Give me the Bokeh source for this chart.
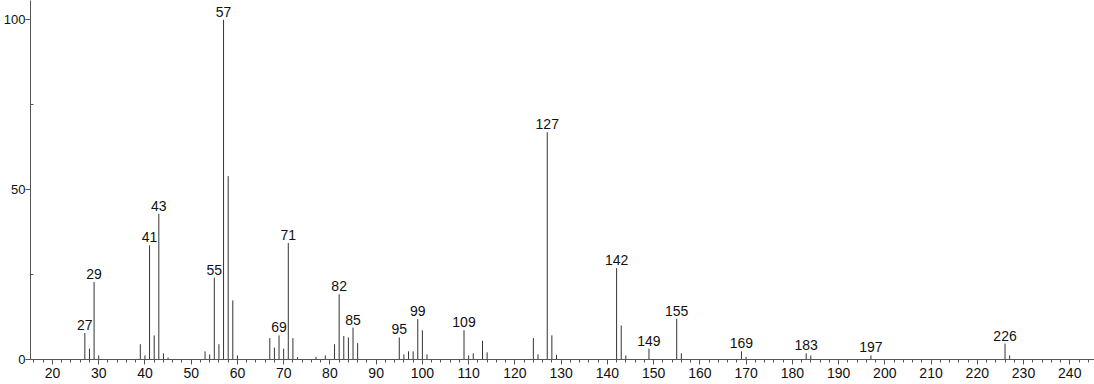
from bokeh.plotting import figure
from bokeh.models import Range1d, FixedTicker, ColumnDataSource
from bokeh.core.properties import value
from bokeh.embed import file_html
from bokeh.resources import INLINE

# m/z values and relative intensities
mz = [27, 28, 29, 30, 39, 40, 41, 42, 43, 44, 45, 53, 54, 55, 56, 57, 58, 59, 60,
      67, 68, 69, 70, 71, 72, 73, 77, 79, 81, 82, 83, 84, 85, 86,
      95, 96, 97, 98, 99, 100, 101, 109, 110, 111, 113, 114,
      124, 125, 127, 128, 129, 142, 143, 144, 149, 155, 156,
      169, 170, 183, 184, 197, 226, 227]
intensity = [7.8, 3.2, 22.8, 1.2, 4.5, 1.2, 33.6, 7.1, 42.9, 1.8, 0.6, 2.4, 1.5, 24.1, 4.5, 100.0, 54.0, 17.4, 1.2,
             6.3, 3.5, 7.1, 3.2, 34.3, 6.3, 0.7, 0.8, 1.2, 4.5, 19.2, 6.9, 6.5, 9.4, 4.8,
             6.5, 1.5, 2.4, 2.4, 11.9, 8.6, 1.5, 8.6, 1.2, 1.8, 5.5, 2.1,
             6.3, 1.5, 66.9, 7.1, 1.4, 26.9, 10.0, 1.2, 3.2, 12.0, 1.8,
             2.4, 0.8, 1.8, 1.2, 1.2, 4.7, 1.2]
labeled = [27, 29, 41, 43, 55, 57, 69, 71, 82, 85, 95, 99, 109, 127, 142, 149, 155, 169, 183, 197, 226]

x_major = list(range(20, 250, 10))
x_minor = list(range(16, 246, 2))
y_major = [0, 50, 100]
y_minor = [25, 75]

FONT = "Liberation Sans"

p = figure(width=1094, height=384, output_backend="svg", toolbar_location=None,
           x_range=Range1d(15.25, 245.35), y_range=Range1d(0, 105.7),
           min_border_left=30, min_border_right=0, min_border_top=0, min_border_bottom=25)
p.outline_line_color = None
p.grid.visible = False
p.background_fill_color = "white"
p.border_fill_color = "white"

src = ColumnDataSource(dict(x=mz, y0=[0] * len(mz), y1=intensity))
p.segment(x0="x", y0="y0", x1="x", y1="y1", source=src, line_color="#333333", line_width=1)

lab_y = [intensity[mz.index(m)] for m in labeled]
lsrc = ColumnDataSource(dict(x=labeled, y=lab_y, t=[str(m) for m in labeled]))
p.text(x="x", y="y", text="t", source=lsrc, text_align="center", text_baseline="bottom",
       y_offset=-3, text_font=value(FONT), text_font_size="14px", text_color="#111111")

xa = p.xaxis[0]
xa.ticker = FixedTicker(ticks=x_major, minor_ticks=x_minor)
xa.major_tick_out = 5
xa.major_tick_in = 0
xa.minor_tick_out = 3
xa.minor_tick_in = 0
xa.axis_line_color = "#555555"
xa.major_tick_line_color = "#555555"
xa.minor_tick_line_color = "#555555"
xa.major_label_text_font = FONT
xa.major_label_text_font_size = "14px"
xa.major_label_text_color = "#111111"
xa.major_label_standoff = 3

ya = p.yaxis[0]
ya.ticker = FixedTicker(ticks=y_major, minor_ticks=y_minor)
ya.major_tick_out = 5
ya.major_tick_in = 0
ya.minor_tick_out = 0
ya.minor_tick_in = 3
ya.axis_line_color = "#555555"
ya.major_tick_line_color = "#555555"
ya.minor_tick_line_color = "#555555"
ya.major_label_text_font = FONT
ya.major_label_text_font_size = "13px"
ya.major_label_text_color = "#111111"
ya.major_label_standoff = 0

open("out.html", "w").write(file_html(p, INLINE))
